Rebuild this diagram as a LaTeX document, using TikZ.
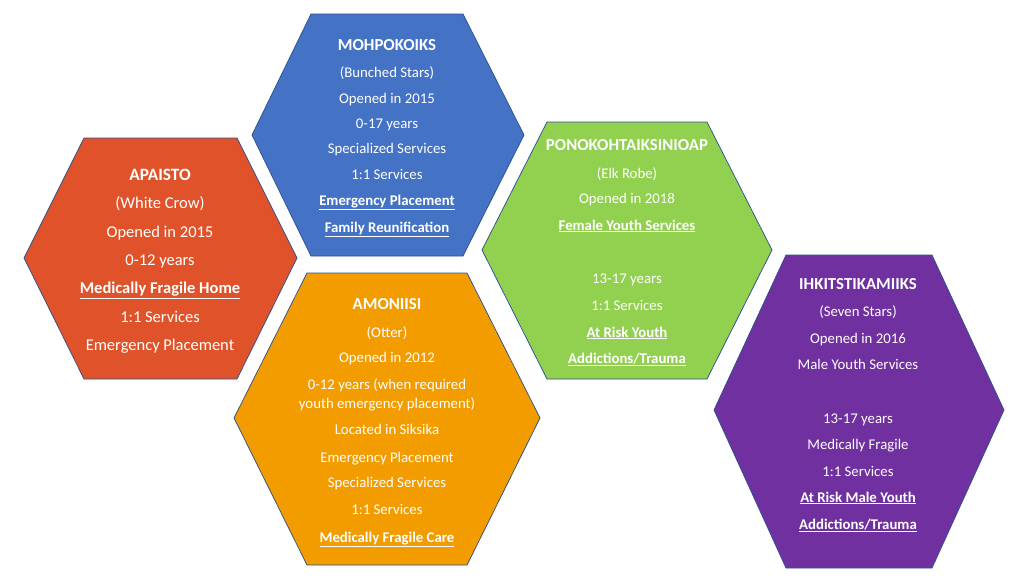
\documentclass[tikz,border=0pt]{standalone}
\usepackage{fontspec}
\setmainfont{Carlito}
\definecolor{cRed}{HTML}{E0532A}
\definecolor{cBlue}{HTML}{4472C4}
\definecolor{cGreen}{HTML}{92D050}
\definecolor{cOrange}{HTML}{F29C00}
\definecolor{cPurple}{HTML}{7030A0}
\definecolor{cEdge}{HTML}{2F528F}
\newcommand\ub[1]{\textbf{\underline{#1}}}
\begin{document}
\begin{tikzpicture}[x=1pt,y=-1pt,
  hex/.style={draw=cEdge, line width=0.75pt},
  lbl/.style={text=white, anchor=base, inner sep=0pt, font=\fontsize{14.8}{17}\selectfont},
  ttl/.style={lbl, font=\fontsize{16.8}{19}\selectfont\bfseries},
  lblbig/.style={lbl, font=\fontsize{16.5}{19}\selectfont},
  ttlbig/.style={lbl, font=\fontsize{17.3}{19}\selectfont\bfseries}]
\useasboundingbox (0,0) rectangle (1026,584);
\fill[white] (0,0) rectangle (1026,584);
% hexagons
\filldraw[hex, fill=cRed]    (24,258) -- (84,138) -- (237,138) -- (297,258) -- (237,379) -- (84,379) -- cycle;
\filldraw[hex, fill=cBlue]   (252,135) -- (311,14) -- (463,14) -- (524,135) -- (463,256) -- (311,256) -- cycle;
\filldraw[hex, fill=cGreen]  (482,250) -- (547,122) -- (707,122) -- (772,250) -- (707,379) -- (547,379) -- cycle;
\filldraw[hex, fill=cOrange] (234,418) -- (307,273) -- (467,273) -- (540,418) -- (467,565) -- (307,565) -- cycle;
\filldraw[hex, fill=cPurple] (714,410) -- (786,255) -- (932,255) -- (1004,410) -- (932,568) -- (786,568) -- cycle;
% APAISTO
\node[ttlbig] (a1) at (160,180) {APAISTO};
\node[lblbig] (a2) at (160,208.5) {(White Crow)};
\node[lblbig] (a3) at (160,237) {Opened in 2015};
\node[lblbig] (a4) at (160,265) {0-12 years};
\node[lblbig] (a5) at (160,293.5) {\ub{Medically Fragile Home}};
\node[lblbig] (a6) at (160,322) {1:1 Services};
\node[lblbig] (a7) at (160,350.5) {Emergency Placement};
% MOHPOKOIKS
\node[ttl] (b1) at (387,50) {MOHPOKOIKS};
\node[lbl] (b2) at (387,77) {(Bunched Stars)};
\node[lbl] (b3) at (387,103) {Opened in 2015};
\node[lbl] (b4) at (387,128) {0-17 years};
\node[lbl] (b5) at (387,153) {Specialized Services};
\node[lbl] (b6) at (387,179) {1:1 Services};
\node[lbl] (b7) at (387,205) {\ub{Emergency Placement}};
\node[lbl] (b8) at (387,232) {\ub{Family Reunification}};
% PONOKOHTAIKSINIOAP
\node[ttl] (c1) at (627,150) {PONOKOHTAIKSINIOAP};
\node[lbl] (c2) at (627,178) {(Elk Robe)};
\node[lbl] (c3) at (627,203) {Opened in 2018};
\node[lbl] (c4) at (627,230) {\ub{Female Youth Services}};
\node[lbl] (c5) at (627,283) {13-17 years};
\node[lbl] (c6) at (627,310) {1:1 Services};
\node[lbl] (c7) at (627,337) {\ub{At Risk Youth}};
\node[lbl] (c8) at (627,363) {\ub{Addictions/Trauma}};
% AMONIISI
\node[ttl] (d1) at (387,309) {AMONIISI};
\node[lbl] (d2) at (387,337) {(Otter)};
\node[lbl] (d3) at (387,362) {Opened in 2012};
\node[lbl] (d4) at (387,389) {0-12 years (when required};
\node[lbl] (d5) at (387,408) {youth emergency placement)};
\node[lbl] (d6) at (387,434) {Located in Siksika};
\node[lbl] (d7) at (387,462) {Emergency Placement};
\node[lbl] (d8) at (387,487) {Specialized Services};
\node[lbl] (d9) at (387,514) {1:1 Services};
\node[lbl] (d10) at (387,542) {\ub{Medically Fragile Care}};
% IHKITSTIKAMIIKS
\node[ttl] (e1) at (858,289) {IHKITSTIKAMIIKS};
\node[lbl] (e2) at (858,316) {(Seven Stars)};
\node[lbl] (e3) at (858,343) {Opened in 2016};
\node[lbl] (e4) at (858,369) {Male Youth Services};
\node[lbl] (e5) at (858,423) {13-17 years};
\node[lbl] (e6) at (858,449) {Medically Fragile};
\node[lbl] (e7) at (858,476) {1:1 Services};
\node[lbl] (e8) at (858,502) {\ub{At Risk Male Youth}};
\node[lbl] (e9) at (858,529) {\ub{Addictions/Trauma}};
\end{tikzpicture}
\end{document}
